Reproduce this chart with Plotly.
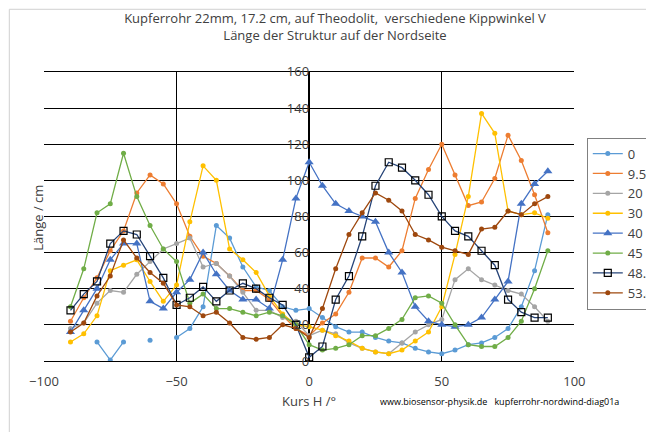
import plotly.graph_objects as go

x = list(range(-90, 95, 5))
names = ["0", "9.5", "20", "30", "40", "45", "48.5", "53.4"]
s0 = [None, None, 10.5, 0.5, 10.5, None, 11.5, None, 13, 18, 30, 75, 68, 52, 41, 39, 30, 28,
      29, 24, 19, 16, 16, 13, 11, 10, 7, 5, 4, 6, 9, 10, 13, 18, 30, 50, 81]
s95 = [22, 35, 46, 61, 72, 93, 103, 98, 87, 69, 58, 54, 47, 39, 39, 34, 25, 18,
       14, 21, 26, 38, 57, 57, 52, 61, 90, 106, 120, 103, 86, 88, 101, 125, 111, 92, 71]
s20 = [18, 21, 32, 39, 38, 48, 55, 62, 65, 68, 52, 54, 47, 38, 28, 28, 24, 22,
       14, 17, 15, 10, 7, 5, 4, 10, 16, 20, 23, 45, 51, 45, 42, 39, 37, 30, 22]
s30 = [10.5, 15, 25, 50, 53, 56, 44, 33, 42, 77, 108, 100, 62, 56, 49, 36, 26, 20,
       19, 17, 14, 11, 7, 5, 4, 6, 11, 16, 30, 59, 91, 137, 126, 83, 81, 82, 79]
s40 = [16, 28, 40, 56, 65, 65, 33, 29, 38, 45, 60, 48, 39, 34, 34, 29, 56, 90,
       110, 97, 87, 83, 80, 77, 60, 49, 30, 22, 20, 19, 20, 24, 34, 44, 87, 98, 105]
s45 = [30, 51, 82, 87, 115, 91, 75, 62, 55, 32, 37, 29, 29, 27, 25, 27, 25, 20,
       9, 6, 7, 9, 14, 14, 18, 23, 35, 36, 32, 20, 9, 8, 8, 13, 22, 40, 61]
s485 = [28, 37, 44, 65, 72, 70, 58, 46, 31, 35, 41, 33, 39, 43, 40, 35, 31, 20,
        2, 8, 34, 47, 69, 97, 110, 107, 100, 92, 80, 72, 69, 61, 53, 34, 27, 24, 24]
s534 = [16, 21, 36, 47, 67, 57, 49, 43, 31, 30, 25, 27, 21, 13, 12, 13, 20, 18,
        13, 29, 51, 70, 82, 93, 89, 83, 70, 67, 63, 61, 59, 73, 74, 83, 81, 87, 91]
series = [s0, s95, s20, s30, s40, s45, s485, s534]

colors = ["#5B9BD5", "#ED7D31", "#A5A5A5", "#FFC000", "#4472C4", "#70AD47", "#264478", "#9E480E"]
fig = go.Figure()
for n, s, c in zip(names, series, colors):
    if n == "40":
        mk = dict(symbol="triangle-up", size=8, color=c)
    elif n == "48.5":
        mk = dict(symbol="square-open", size=7, color="black", line=dict(width=1.2))
    else:
        mk = dict(symbol="circle", size=5, color=c)
    fig.add_trace(go.Scatter(x=x, y=s, name=n, mode="lines+markers", connectgaps=False,
                             line=dict(color=c, width=1.3), marker=mk))

xd = [0.055, 0.866]
fig.update_layout(
    width=654, height=432, margin=dict(l=0, r=0, t=0, b=0, autoexpand=False),
    paper_bgcolor="white", plot_bgcolor="white",
    font=dict(family="Open Sans", size=12, color="#404040"),
    title=dict(text="Kupferrohr 22mm, 17.2 cm, auf Theodolit,  verschiedene Kippwinkel V<br>Länge der Struktur auf der Nordseite",
               x=0.5, xanchor="center", y=0.965, yanchor="top", font=dict(size=13, color="#404040"),
               automargin=False),
    xaxis=dict(domain=xd, range=[-100, 100], dtick=50, showgrid=True, gridcolor="black", gridwidth=1,
               zeroline=True, zerolinecolor="black", zerolinewidth=1.5, showline=True,
               linecolor="black", mirror=True, automargin=False,
               ticks="", tickfont=dict(size=13), ticklabelstandoff=8),
    yaxis=dict(domain=[0.183, 0.852], range=[0, 160], dtick=20, showgrid=True, gridcolor="black",
               gridwidth=1, zeroline=False, anchor="free", position=(xd[0] + xd[1]) / 2,
               automargin=False, ticks="", tickfont=dict(size=13), showline=False),
    legend=dict(x=0.885, y=0.70, xanchor="left", yanchor="top", bordercolor="#808080",
                borderwidth=1, font=dict(size=13), tracegroupgap=0, itemwidth=30),
    shapes=[dict(type="rect", xref="paper", yref="paper", x0=0.002, x1=0.998, y0=0.003, y1=0.997,
                 line=dict(color="#d0d0d0", width=1))],
    annotations=[
        dict(text="Kurs H /°", x=0.46, y=0.065, xref="paper", yref="paper", showarrow=False,
             font=dict(size=13, color="#404040")),
        dict(text="Länge / cm", x=0.028, y=0.515, xref="paper", yref="paper", showarrow=False,
             textangle=-90, font=dict(size=13, color="#404040")),
        dict(text="www.biosensor-physik.de   kupferrohr-nordwind-diag01a", x=0.565, y=0.07,
             xref="paper", yref="paper", showarrow=False, xanchor="left",
             font=dict(size=9, color="black")),
    ],
)
fig.write_html("out.html")
